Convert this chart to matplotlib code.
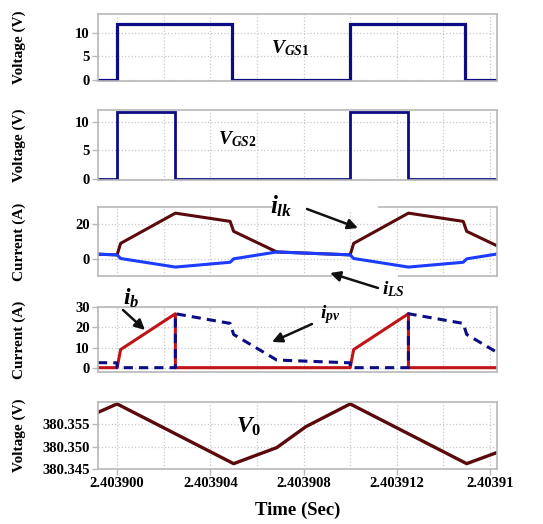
import matplotlib
matplotlib.use("Agg")
import matplotlib.pyplot as plt
from matplotlib.text import Annotation
from matplotlib.patches import Rectangle

# ---------------- data (time in microseconds after 2.403900 s) ----------------
t_vgs1 = [-0.82, 0.0, 0.0, 4.92, 4.92, 10.0, 10.0, 14.92, 14.92, 16.3]
v_gs1 = [0, 0, 12, 12, 0, 0, 12, 12, 0, 0]

t_vgs2 = [-0.82, 0.0, 0.0, 2.5, 2.5, 10.0, 10.0, 12.5, 12.5, 16.3]
v_gs2 = [0, 0, 11.7, 11.7, 0, 0, 11.7, 11.7, 0, 0]

t_ilk = [-0.82, 0.0, 0.15, 2.5, 4.85, 5.0, 6.85, 10.0, 10.15, 12.5, 14.85, 15.0, 16.3]
i_lk = [2.7, 2.3, 9.0, 26.6, 21.8, 16.0, 4.0, 2.3, 9.0, 26.6, 21.8, 16.0, 7.6]

t_ils = [-0.82, 0.0, 0.15, 2.5, 4.85, 5.0, 6.85, 10.0, 10.15, 12.5, 14.85, 15.0, 16.3]
i_ls = [2.7, 2.3, 0.2, -4.8, -2.0, 0.0, 4.0, 2.3, 0.2, -4.8, -2.0, 0.0, 2.8]

t_ib = [-0.82, 0.0, 0.15, 2.5, 2.5, 10.0, 10.15, 12.5, 12.5, 16.3]
i_b = [0, 0, 9.0, 26.8, 0, 0, 9.0, 26.8, 0, 0]

t_ipv = [-0.82, 0.0, 0.0, 2.5, 2.5, 4.85, 5.0, 6.85, 10.0, 10.0, 12.5, 12.5, 14.85, 15.0, 16.3]
i_pv = [2.5, 2.4, 0, 0, 26.8, 22.0, 16.5, 3.8, 2.4, 0, 0, 26.8, 22.0, 16.5, 7.6]

t_v0 = [-0.82, 0.0, 5.0, 6.85, 8.1, 10.0, 15.0, 16.3]
v_0 = [380.3577, 380.3596, 380.3462, 380.3498, 380.3545, 380.3596, 380.3462, 380.3487]

x_ticks = [0, 4, 8, 12, 16]
x_ticklabels = ["2.403900", "2.403904", "2.403908", "2.403912", "2.40391"]
x_minor = [2, 6, 10, 14]

# ---------------- style ----------------
plt.rcParams["font.family"] = ["Liberation Serif", "DejaVu Serif"]
plt.rcParams["font.weight"] = "bold"
plt.rcParams["mathtext.fontset"] = "custom"
plt.rcParams["mathtext.rm"] = "Liberation Serif:bold"
plt.rcParams["mathtext.it"] = "Liberation Serif:bold:italic"
plt.rcParams["mathtext.bf"] = "Liberation Serif:bold"

W, H = 543, 524
fig = plt.figure(figsize=(W / 100, H / 100), dpi=100)
fig.patch.set_facecolor("white")

L, R = 98, 497
panels = [(13.7, 81), (110, 180), (207.3, 276), (307.3, 371.7), (401.7, 469)]
axes = []
for top, bot in panels:
    ax = fig.add_axes([L / W, 1 - bot / H, (R - L) / W, (bot - top) / H])
    axes.append(ax)

frame_c = "#b8b8b8"
grid_c = "#c8c8c8"
for ax in axes:
    ax.set_xlim(-0.82, 16.3)
    ax.set_xticks(x_ticks)
    ax.set_xticks(x_minor, minor=True)
    ax.tick_params(axis="x", which="minor", length=0)
    ax.grid(True, which="both", linestyle=":", color=grid_c, linewidth=0.9)
    ax.set_axisbelow(True)
    for s in ax.spines.values():
        s.set_color(frame_c)
        s.set_linewidth(1.2)
    ax.tick_params(axis="both", which="major", length=4, color=frame_c, width=1,
                   labelsize=10.5, pad=2)
    for lab in ax.get_yticklabels():
        lab.set_fontweight("bold")
for ax in axes[:-1]:
    ax.set_xticklabels([])
    ax.tick_params(axis="x", which="major", length=0)
axes[-1].set_xticklabels(x_ticklabels, fontweight="bold", fontsize=10.5)

navy = "#0c0c84"
maroon = "#5a0a0c"
blue = "#1c3cff"
red = "#c01418"

# panel 1
ax = axes[0]
ax.plot(t_vgs1, v_gs1, color=navy, lw=2.3, solid_joinstyle="miter")
ax.set_ylim(-0.3, 14.2)
ax.set_yticks([0, 5, 10])
ax.set_ylabel("Voltage (V)", fontsize=11, fontweight="bold")

# panel 2
ax = axes[1]
ax.plot(t_vgs2, v_gs2, color=navy, lw=2.0, solid_joinstyle="miter")
ax.set_ylim(-0.2, 12.05)
ax.set_yticks([0, 5, 10])
ax.set_ylabel("Voltage (V)", fontsize=11, fontweight="bold")

# panel 3
ax = axes[2]
ax.plot(t_ilk, i_lk, color=maroon, lw=2.2)
ax.plot(t_ils, i_ls, color=blue, lw=2.2)
ax.set_ylim(-10, 30)
ax.set_yticks([0, 20])
ax.set_ylabel("Current (A)", fontsize=11, fontweight="bold")

# panel 4
ax = axes[3]
ax.plot(t_ib, i_b, color=red, lw=2.2)
ax.plot(t_ipv, i_pv, color=navy, lw=2.2, linestyle=(0, (3, 2)))
ax.set_ylim(-2, 30)
ax.set_yticks([0, 10, 20, 30])
ax.set_ylabel("Current (A)", fontsize=11, fontweight="bold")

# panel 5
ax = axes[4]
ax.plot(t_v0, v_0, color=maroon, lw=2.4)
ax.set_ylim(380.345, 380.3601)
ax.set_yticks([380.345, 380.350, 380.355])
ax.set_yticklabels(["380.345", "380.350", "380.355"], fontweight="bold")
ax.set_ylabel("Voltage (V)", fontsize=11, fontweight="bold")
ax.set_xlabel("Time (Sec)", fontsize=13.5, fontweight="bold", labelpad=8)

for ax in axes:
    ax.yaxis.set_label_coords(-0.18, 0.5)
    for lab in ax.get_yticklabels():
        lab.set_fontweight("bold")


def fp(x, y):
    return (x / W, 1 - y / H)


# white gaps in frames behind annotations
for (x0, y0, x1, y1) in [(272, 203, 378, 212), (332, 271, 398, 280)]:
    r = Rectangle(fp(x0, y1), (x1 - x0) / W, (y1 - y0) / H, transform=fig.transFigure,
                  facecolor="white", edgecolor="none", zorder=5)
    fig.add_artist(r)


def label(x, y, s, size):
    fig.text(x / W, 1 - y / H, s, fontsize=size, ha="center", va="center", zorder=10)


def arrow(x0, y0, x1, y1):
    a = Annotation("", xy=fp(x1, y1), xytext=fp(x0, y0), xycoords="figure fraction",
                   textcoords="figure fraction",
                   arrowprops=dict(arrowstyle="-|>,head_length=0.6,head_width=0.3",
                                   color="#111111", lw=1.8, shrinkA=0, shrinkB=0))
    a.set_zorder(10)
    fig.add_artist(a)


label(290, 48, r"$\mathit{V}_{\mathit{GS1}}$", 14)
label(237, 139, r"$\mathit{V}_{\mathit{GS2}}$", 14)
label(281, 206, r"$\mathit{i}_{\mathit{lk}}$", 18)
label(393, 289, r"$\mathit{i}_{\mathit{LS}}$", 14)
label(131, 298, r"$\mathit{i}_{\mathit{b}}$", 17)
label(330, 315, r"$\mathit{i}_{\mathit{pv}}$", 14)
label(249, 427, r"$\mathit{V}_{\mathit{0}}$", 17)

arrow(307, 209, 358, 228)
arrow(378, 288, 330, 273)
arrow(123, 310, 145, 330)
arrow(312, 324, 272, 342)

fig.savefig("out.png", dpi=100, facecolor="white")
